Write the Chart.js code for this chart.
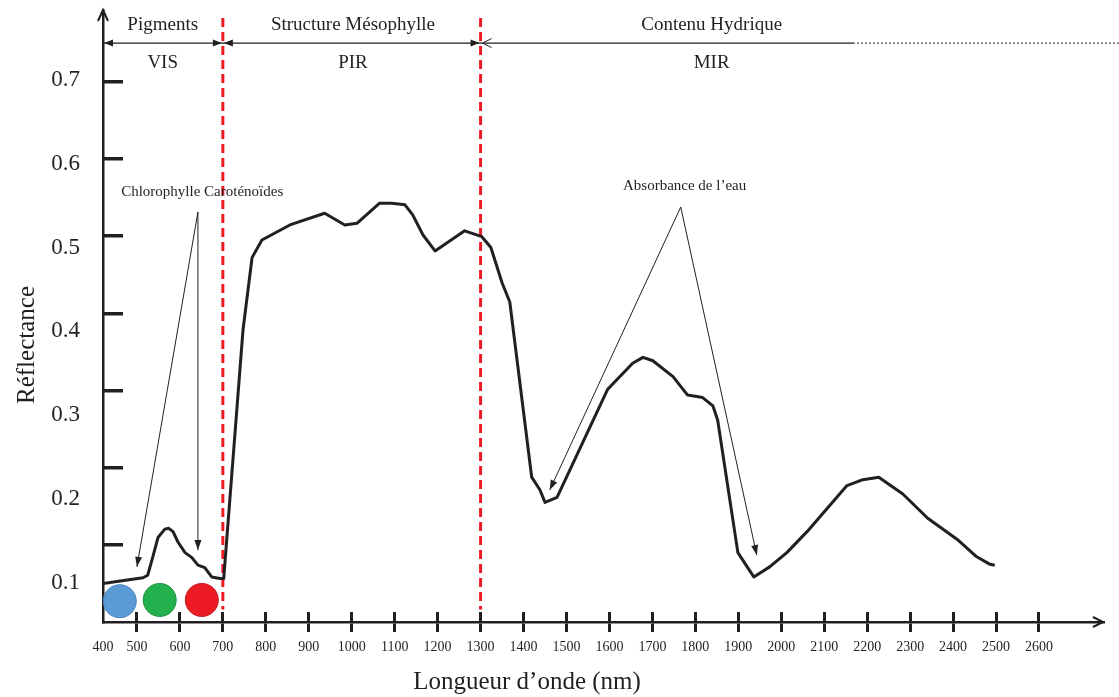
<!DOCTYPE html>
<html>
<head>
<meta charset="utf-8">
<script src="https://cdn.jsdelivr.net/npm/chart.js@4.4.1/dist/chart.umd.min.js"></script>
<style>
  html, body { margin: 0; padding: 0; background: #fff; }
</style>
</head>
<body>
<canvas id="spectre" width="1119" height="697"></canvas>
<script>
// Spectre de réflectance d'une feuille verte

var ink = '#231f20';
var serif = "'Liberation Serif', 'Times New Roman', serif";

// courbe (nm, réflectance)
var wavelength = [421, 514, 525, 537, 549, 565, 574, 584, 595, 612, 628, 642, 658, 674, 693, 702,
    747, 768, 791, 856, 937, 984, 1012, 1065, 1093, 1124, 1142, 1166, 1194, 1263, 1303,
    1324, 1350, 1368, 1419, 1438, 1450, 1478, 1596, 1654, 1678, 1701, 1748, 1782, 1817, 1841, 1852,
    1899, 1936, 1973, 2013, 2060, 2153, 2190, 2227, 2283, 2341, 2409, 2455, 2486, 2497];
var reflectance = [0.099, 0.106, 0.109, 0.131, 0.154, 0.164, 0.165, 0.161, 0.149, 0.136, 0.130, 0.121, 0.118, 0.107, 0.105, 0.105,
    0.402, 0.488, 0.509, 0.527, 0.541, 0.527, 0.529, 0.553, 0.553, 0.551, 0.539, 0.515, 0.496, 0.520, 0.513,
    0.500, 0.458, 0.435, 0.226, 0.211, 0.196, 0.202, 0.331, 0.362, 0.369, 0.365, 0.346, 0.324, 0.321, 0.311, 0.294,
    0.136, 0.107, 0.119, 0.136, 0.161, 0.216, 0.223, 0.226, 0.206, 0.177, 0.152, 0.131, 0.122, 0.121];

// pastilles de couleur (bleu, vert, rouge)
var dotX = [460, 553, 651];
var dotY = [0.078, 0.0795, 0.0795];
var dotFill = ['#5b9bd5', '#22b14c', '#ed1c24'];
var dotEdge = ['#4a82b8', '#1e8f40', '#c4161d'];

// limites des domaines
var dividers = [700, 1300];
var dividerTop = 0.774;
var dividerBottom = 0.068;

// axes
var xMin = 421, xMax = 2749;
var xTickValues = [421, 500, 600, 700, 800, 900, 1000, 1100, 1200, 1300, 1400, 1500, 1600, 1700, 1800, 1900, 2000, 2100, 2200, 2300, 2400, 2500, 2600];
var xTickLabels = ['400', '500', '600', '700', '800', '900', '1000', '1100', '1200', '1300', '1400', '1500', '1600', '1700', '1800', '1900', '2000', '2100', '2200', '2300', '2400', '2500', '2600'];
var yLabelValues = [0.1, 0.2, 0.3, 0.4, 0.5, 0.6, 0.7];
var yMarkValues = [0.1, 0.2, 0.3, 0.4, 0.5, 0.6, 0.7];

// bandeau du haut
var regionNames = ['Pigments', 'Structure Mésophylle', 'Contenu Hydrique'];
var regionBands = ['VIS', 'PIR', 'MIR'];
var regionCenters = [560, 1003, 1838];
var bracketY = 0.744;
var bracketSolidEnd = 2167;

// annotations fléchées
var callouts = [
    { text: 'Chlorophylle Caroténoïdes', tx: 652, ty: 0.566, apex: [642, 0.5425], targets: [[500, 0.119], [642, 0.139]] },
    { text: 'Absorbance de l’eau', tx: 1775, ty: 0.573, apex: [1766, 0.5484], targets: [[1461, 0.2107], [1943, 0.133]] }
];

function head(ctx, x0, y0, x1, y1, len, half, filled) {
    var a = Math.atan2(y1 - y0, x1 - x0);
    var bx = x1 - len * Math.cos(a), by = y1 - len * Math.sin(a);
    var nx = -Math.sin(a) * half, ny = Math.cos(a) * half;
    ctx.beginPath();
    ctx.moveTo(bx + nx, by + ny);
    ctx.lineTo(x1, y1);
    ctx.lineTo(bx - nx, by - ny);
    if (filled) { ctx.closePath(); ctx.fill(); } else { ctx.stroke(); }
}

var annot = {
    id: 'annot',
    afterDraw: function (chart) {
        var ctx = chart.ctx;
        var sx = chart.scales.x, sy = chart.scales.y;
        var px = function (v) { return sx.getPixelForValue(v); };
        var py = function (v) { return sy.getPixelForValue(v); };
        var area = chart.chartArea;
        ctx.save();
        ctx.fillStyle = ink;
        ctx.strokeStyle = ink;

        // fleches des axes
        ctx.lineWidth = 2;
        ctx.beginPath();
        ctx.moveTo(area.left - 5, area.top + 11); ctx.lineTo(area.left, area.top); ctx.lineTo(area.left + 5, area.top + 11);
        ctx.stroke();
        ctx.beginPath();
        ctx.moveTo(area.right - 10, area.bottom - 5); ctx.lineTo(area.right, area.bottom); ctx.lineTo(area.right - 10, area.bottom + 5);
        ctx.stroke();

        // bandeau
        var by = py(bracketY);
        ctx.lineWidth = 1.2;
        ctx.beginPath();
        ctx.moveTo(px(xMin), by); ctx.lineTo(px(bracketSolidEnd), by);
        ctx.stroke();
        ctx.setLineDash([2, 2]);
        ctx.lineWidth = 1;
        ctx.beginPath();
        ctx.moveTo(px(bracketSolidEnd), by); ctx.lineTo(chart.width, by);
        ctx.stroke();
        ctx.setLineDash([]);
        head(ctx, px(xMin) + 20, by, px(xMin) + 1, by, 9, 3.5, true);
        head(ctx, px(dividers[0]) - 20, by, px(dividers[0]) - 1, by, 9, 3.5, true);
        head(ctx, px(dividers[0]) + 20, by, px(dividers[0]) + 1, by, 9, 3.5, true);
        head(ctx, px(dividers[1]) - 20, by, px(dividers[1]) - 1, by, 9, 3.5, true);
        ctx.lineWidth = 1;
        head(ctx, px(dividers[1]) + 20, by, px(dividers[1]) + 2, by, 9, 4.5, false);

        ctx.textAlign = 'center';
        ctx.textBaseline = 'middle';
        ctx.font = '19px ' + serif;
        for (var i = 0; i < regionNames.length; i++) {
            ctx.fillText(regionNames[i], px(regionCenters[i]), by - 18);
            ctx.fillText(regionBands[i], px(regionCenters[i]), by + 20);
        }

        // annotations
        ctx.font = '15px ' + serif;
        ctx.lineWidth = 1;
        callouts.forEach(function (c) {
            ctx.fillText(c.text, px(c.tx), py(c.ty));
            var ax = px(c.apex[0]), ay = py(c.apex[1]);
            c.targets.forEach(function (t) {
                var tx = px(t[0]), ty = py(t[1]);
                ctx.beginPath();
                ctx.moveTo(ax, ay); ctx.lineTo(tx, ty);
                ctx.stroke();
                head(ctx, ax, ay, tx, ty, 10, 3.5, true);
            });
        });

        // titres des axes
        ctx.font = '25px ' + serif;
        ctx.fillText('Longueur d’onde (nm)', 527, 682);
        ctx.translate(27, 345);
        ctx.rotate(-Math.PI / 2);
        ctx.fillText('Réflectance', 0, 0);
        ctx.restore();
    }
};

var datasets = [{
    type: 'line',
    data: wavelength.map(function (w, i) { return { x: w, y: reflectance[i] }; }),
    borderColor: ink,
    borderWidth: 3,
    pointRadius: 0,
    tension: 0,
    borderJoinStyle: 'round',
    xAxisID: 'x', yAxisID: 'y'
}, {
    type: 'scatter',
    data: dotX.map(function (w, i) { return { x: w, y: dotY[i] }; }),
    backgroundColor: dotFill,
    borderColor: dotEdge,
    borderWidth: 1,
    pointRadius: 16.5,
    xAxisID: 'x', yAxisID: 'y'
}];
dividers.forEach(function (d) {
    datasets.push({
        type: 'line',
        data: [{ x: d, y: dividerTop }, { x: d, y: dividerBottom }],
        borderColor: '#ed1c24',
        borderWidth: 3,
        borderDash: [9, 5],
        pointRadius: 0,
        xAxisID: 'x', yAxisID: 'y'
    });
});

function fixTicks(values) {
    return function (scale) {
        scale.ticks = values.map(function (v) { return { value: v }; });
    };
}
function noPad(scale) {
    scale.paddingTop = 0; scale.paddingBottom = 0;
    scale.paddingLeft = 0; scale.paddingRight = 0;
}

new Chart(document.getElementById('spectre'), {
    data: { datasets: datasets },
    options: {
        responsive: false,
        animation: false,
        layout: { autoPadding: false, padding: { top: 10, right: 16, left: 0, bottom: 0 } },
        plugins: { legend: { display: false }, tooltip: { enabled: false } },
        scales: {
            x: {
                type: 'linear', position: 'bottom', weight: 1,
                min: xMin, max: xMax,
                afterBuildTicks: fixTicks(xTickValues),
                afterFit: function (s) { s.height = 75; noPad(s); },
                border: { display: true, color: ink, width: 2.5 },
                grid: {
                    drawOnChartArea: false, tickLength: 10, lineWidth: 3,
                    tickColor: function (c) { return c.index === 0 ? 'rgba(0,0,0,0)' : ink; }
                },
                ticks: {
                    autoSkip: false, maxRotation: 0, padding: 7, color: ink,
                    font: { family: serif, size: 14 },
                    callback: function (v, i) { return xTickLabels[i]; }
                }
            },
            xUp: {
                type: 'linear', position: 'bottom', weight: 0,
                min: xMin, max: xMax,
                afterBuildTicks: fixTicks(xTickValues),
                afterFit: function (s) { s.height = 0; noPad(s); },
                border: { display: false },
                grid: {
                    drawOnChartArea: false, tickLength: -10, lineWidth: 3,
                    tickColor: function (c) { return c.index === 0 ? 'rgba(0,0,0,0)' : ink; }
                },
                ticks: { display: false }
            },
            y: {
                type: 'linear', position: 'left', weight: 1,
                min: 0.0532, max: 0.7835,
                afterBuildTicks: fixTicks(yLabelValues),
                afterFit: function (s) { s.width = 103; noPad(s); },
                border: { display: false },
                grid: { display: false, drawTicks: false },
                ticks: {
                    padding: 23, color: ink,
                    font: { family: serif, size: 23 },
                    callback: function (v) { return v.toFixed(1); }
                }
            },
            yt: {
                type: 'linear', position: 'left', weight: 0,
                min: 0, max: 0.793,
                afterBuildTicks: fixTicks(yMarkValues),
                afterFit: function (s) { s.width = 0; noPad(s); },
                border: { display: true, color: ink, width: 2.5 },
                grid: { drawOnChartArea: false, tickLength: -20, lineWidth: 3.5, tickColor: ink },
                ticks: { display: false }
            }
        }
    },
    plugins: [annot]
});
</script>
</body>
</html>
